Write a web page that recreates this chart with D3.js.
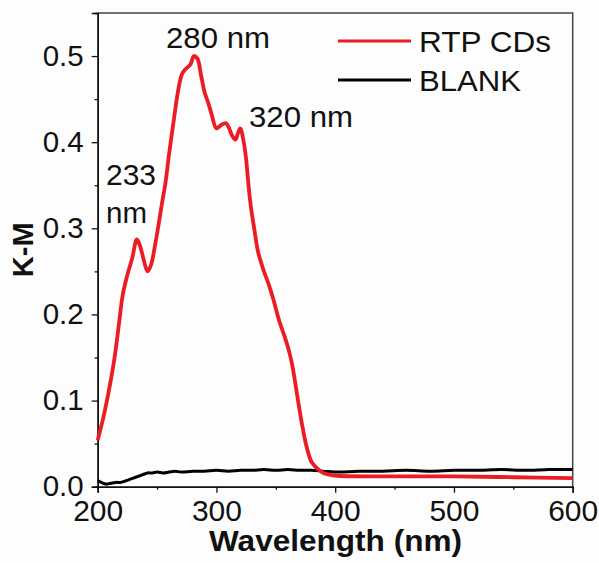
<!DOCTYPE html>
<html>
<head>
<meta charset="utf-8">
<script src="https://cdn.jsdelivr.net/npm/d3@7"></script>
<style>
  body { margin: 0; background: #fdfdfd; }
  svg { display: block; font-family: "Liberation Sans", Arial, sans-serif; }
</style>
</head>
<body>
<div id="chart"></div>
<script>
// RTP CDs spectrum (K-M vs wavelength)
var redWl = [200, 205, 210, 214, 218, 221, 225, 229, 233, 236, 239, 242, 245, 248, 251, 254, 257, 260, 264, 268, 271, 274, 278, 281, 284, 287, 290, 293, 296, 300, 304, 308, 311, 313, 316, 318, 320, 323, 325, 327, 329, 332, 335, 340, 344, 348, 353, 358, 361, 364, 368, 372, 376, 380, 385, 390, 400, 450, 500, 550, 600];
var redKM = [0.054, 0.082, 0.116, 0.148, 0.190, 0.222, 0.246, 0.265, 0.287, 0.278, 0.262, 0.250, 0.258, 0.278, 0.302, 0.328, 0.352, 0.385, 0.425, 0.462, 0.479, 0.485, 0.490, 0.500, 0.497, 0.478, 0.458, 0.446, 0.432, 0.416, 0.420, 0.422, 0.415, 0.408, 0.403, 0.410, 0.416, 0.400, 0.380, 0.350, 0.325, 0.298, 0.273, 0.250, 0.235, 0.217, 0.192, 0.172, 0.158, 0.140, 0.106, 0.073, 0.046, 0.029, 0.021, 0.016, 0.013, 0.012, 0.012, 0.011, 0.010];

// BLANK spectrum
var blankWl = [200, 203, 207, 211, 215, 219, 222, 226, 230, 234, 238, 242, 246, 250, 255, 260, 265, 270, 280, 290, 300, 310, 320, 330, 340, 350, 360, 370, 380, 390, 400, 420, 440, 460, 480, 500, 520, 540, 560, 580, 600];
var blankKM = [0.007, 0.005, 0.003, 0.004, 0.005, 0.005, 0.006, 0.008, 0.010, 0.012, 0.014, 0.016, 0.016, 0.017, 0.016, 0.017, 0.018, 0.017, 0.018, 0.018, 0.019, 0.018, 0.019, 0.019, 0.020, 0.019, 0.020, 0.019, 0.019, 0.018, 0.017, 0.018, 0.018, 0.019, 0.018, 0.019, 0.019, 0.020, 0.019, 0.020, 0.020];

var xTicks = [200, 300, 400, 500, 600];
var yTicks = [0.0, 0.1, 0.2, 0.3, 0.4, 0.5];
var series = [
    {name: "RTP CDs", wl: redWl, km: redKM, color: "#ec1c24", width: 3.8, len: 132},
    {name: "BLANK", wl: blankWl, km: blankKM, color: "#000000", width: 3, len: 102}
];
var peakLabels = [
    {lines: ["280 nm"], x: 166, y: 48, len: 104},
    {lines: ["320 nm"], x: 249, y: 127, len: 104},
    {lines: ["233", "nm"], x: 106, y: 185, len: [50, 41]}
];

var width = 599, height = 563;
var margin = {left: 97.7, right: 26.3, top: 13, bottom: 76.3};

var svg = d3.select("#chart")
    .append("svg")
    .attr("width", width)
    .attr("height", height)

svg.append("rect")
    .attr("width", width)
    .attr("height", height)
    .attr("fill", "#fdfdfd")

var x = d3.scaleLinear().domain([200, 600]).range([margin.left, width - margin.right]);
var y = d3.scaleLinear().domain([0, 0.55]).range([height - margin.bottom, margin.top]);

// frame (top and right)
svg.append("path")
    .attr("d", "M" + x(200) + "," + y(0.55) + "H" + x(600) + "V" + y(0))
    .attr("fill", "none")
    .attr("stroke", "#444")
    .attr("stroke-width", 1.5)

// minor ticks
var xMinor = d3.axisBottom(x).tickValues([250, 350, 450, 550]).tickSize(3).tickFormat("");
var yMinor = d3.axisLeft(y).tickValues([0.05, 0.15, 0.25, 0.35, 0.45]).tickSize(3).tickFormat("");
svg.append("g").attr("transform", "translate(0," + y(0) + ")").call(xMinor);
svg.append("g").attr("transform", "translate(" + x(200) + ",0)").call(yMinor);

var xAxis = d3.axisBottom(x).tickValues(xTicks).tickSize(6).tickPadding(8).tickFormat(d3.format("d"));
var yAxis = d3.axisLeft(y).tickValues(yTicks).tickSize(6).tickPadding(8).tickFormat(d3.format(".1f"));

svg.append("g")
    .attr("class", "axis xaxis")
    .attr("transform", "translate(0," + y(0) + ")")
    .call(xAxis)
svg.append("g")
    .attr("class", "axis yaxis")
    .attr("transform", "translate(" + x(200) + ",0)")
    .call(yAxis)

svg.selectAll(".axis text")
    .attr("font-size", 29)
    .attr("font-family", "Liberation Sans, Arial, sans-serif")
    .attr("fill", "#111")
svg.selectAll(".xaxis text")
    .attr("textLength", 50)
    .attr("lengthAdjust", "spacingAndGlyphs")
svg.selectAll(".yaxis text")
    .attr("textLength", 41)
    .attr("lengthAdjust", "spacingAndGlyphs")
svg.selectAll("g path.domain")
    .attr("stroke", "#111")
    .attr("stroke-width", 1.5)
svg.selectAll("g .tick line")
    .attr("stroke", "#111")
    .attr("stroke-width", 1.3)

// data lines
var line = d3.line()
    .x(function(d) {return x(d[0])})
    .y(function(d) {return y(d[1])})
    .curve(d3.curveCatmullRom.alpha(0.5));

series.slice().reverse().forEach(function(s) {
    svg.append("path")
        .datum(s.wl.map(function(w, i) {return [w, s.km[i]]}))
        .attr("d", line)
        .attr("fill", "none")
        .attr("stroke", s.color)
        .attr("stroke-width", s.width)
        .attr("stroke-linejoin", "round")
})

// legend
var legend = svg.append("g");
series.forEach(function(s, i) {
    var ly = 41 + i * 39;
    legend.append("line")
        .attr("x1", 338).attr("x2", 411)
        .attr("y1", ly).attr("y2", ly)
        .attr("stroke", s.color)
        .attr("stroke-width", 3)
    legend.append("text")
        .attr("x", 419)
        .attr("y", ly + 11)
        .attr("font-size", 30)
        .attr("textLength", s.len)
        .attr("lengthAdjust", "spacingAndGlyphs")
        .attr("fill", "#111")
        .text(s.name)
})

// peak annotations
peakLabels.forEach(function(p) {
    p.lines.forEach(function(t, i) {
        svg.append("text")
            .attr("x", p.x)
            .attr("y", p.y + i * 38)
            .attr("font-size", 30)
            .attr("textLength", Array.isArray(p.len) ? p.len[i] : p.len)
            .attr("lengthAdjust", "spacingAndGlyphs")
            .attr("fill", "#111")
            .text(t)
    })
})

// axis titles
svg.append("text")
    .attr("x", 335.5)
    .attr("y", 551)
    .attr("text-anchor", "middle")
    .attr("font-size", 29)
    .attr("font-weight", "bold")
    .attr("textLength", 253)
    .attr("lengthAdjust", "spacingAndGlyphs")
    .attr("fill", "#111")
    .text("Wavelength (nm)")

svg.append("text")
    .attr("transform", "translate(33," + ((y(0) + y(0.55)) / 2) + ") rotate(-90)")
    .attr("text-anchor", "middle")
    .attr("font-size", 29)
    .attr("font-weight", "bold")
    .attr("fill", "#111")
    .text("K-M")
</script>
</body>
</html>
